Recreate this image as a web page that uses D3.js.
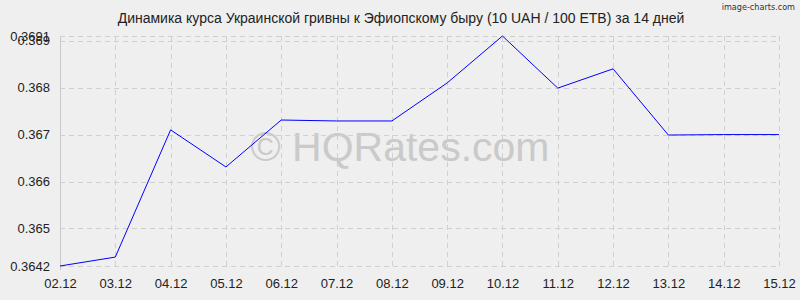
<!DOCTYPE html>
<html><head><meta charset="utf-8">
<script src="https://cdn.jsdelivr.net/npm/d3@7"></script>
<style>body{margin:0;background:#efefef;}svg{display:block;}</style>
</head><body>
<script>
const categories = ["02.12","03.12","04.12","05.12","06.12","07.12","08.12","09.12","10.12","11.12","12.12","13.12","14.12","15.12"];
const values = [0.3642,0.36439,0.36710,0.36631,0.36731,0.36729,0.36729,0.36810,0.3691,0.36799,0.36840,0.36699,0.36700,0.36700];
const yTicks = [0.3642,0.365,0.366,0.367,0.368,0.369,0.3691];
const yTickLabels = ["0.3642","0.365","0.366","0.367","0.368","0.369","0.3691"];
const title = "Динамика курса Украинской гривны к Эфиопскому быру (10 UAH / 100 ETB) за 14 дней";

const W=800,H=300;
const svg=d3.select("body").append("svg").attr("width",W).attr("height",H);
svg.append("rect").attr("width",W).attr("height",H).attr("fill","#efefef");
const x=d3.scalePoint().domain(categories).range([60,779]);
const y=d3.scaleLinear().domain([0.3642,0.3691]).range([266,36]);
const font="'Liberation Sans', Arial, sans-serif";

// watermark
svg.append("text").attr("x",400).attr("y",161).attr("text-anchor","middle")
  .attr("font-family",font).attr("font-size",41).attr("fill","#cacaca").text("© HQRates.com");

// grid
const g=svg.append("g");
g.selectAll(".hg").data(yTicks).join("line")
  .attr("x1",60).attr("x2",779).attr("y1",d=>Math.round(y(d))+0.5).attr("y2",d=>Math.round(y(d))+0.5)
  .attr("stroke","#d0d0d0").attr("stroke-dasharray","5,4");
g.selectAll(".vg").data(categories.slice(1)).join("line")
  .attr("x1",d=>Math.round(x(d))+0.5).attr("x2",d=>Math.round(x(d))+0.5).attr("y1",36).attr("y2",270)
  .attr("stroke","#d0d0d0").attr("stroke-dasharray","5,4");
g.append("line").attr("x1",60.5).attr("x2",60.5).attr("y1",36).attr("y2",270).attr("stroke","#c8c8c8");

// y axis labels
const ya=d3.axisLeft(y).tickValues(yTicks).tickFormat((d,i)=>yTickLabels[i]).tickSize(0).tickPadding(10);
const yg=svg.append("g").attr("transform","translate(60,0)").call(ya);
yg.select(".domain").remove();
yg.selectAll("text").attr("font-family",font).attr("font-size",13).attr("fill","#222");

// x axis labels
const xa=d3.axisBottom(x).tickSize(0).tickPadding(13);
const xg=svg.append("g").attr("transform","translate(0,266)").call(xa);
xg.select(".domain").remove();
xg.selectAll("text").attr("font-family",font).attr("font-size",13).attr("fill","#222");

// line
svg.append("path").datum(values)
  .attr("d",d3.line().x((d,i)=>x(categories[i])).y(d=>y(d)))
  .attr("fill","none").attr("stroke","#0000ff").attr("stroke-width",1);

// title
svg.append("text").attr("x",401).attr("y",23).attr("text-anchor","middle")
  .attr("font-family",font).attr("font-size",14).attr("fill","#222").text(title);
svg.append("text").attr("x",795).attr("y",10).attr("text-anchor","end")
  .attr("font-family","'DejaVu Sans Condensed','DejaVu Sans',sans-serif").attr("font-size",9).attr("fill","#333").text("image-charts.com");
</script>
</body></html>
